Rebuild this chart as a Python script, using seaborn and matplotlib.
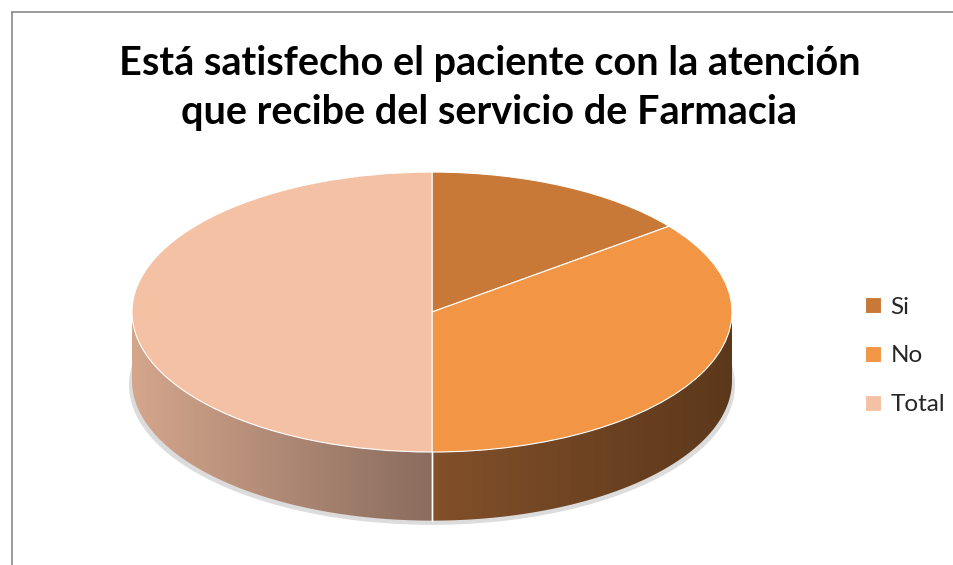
import numpy as np
import matplotlib
matplotlib.use("Agg")
import matplotlib.pyplot as plt
import matplotlib.colors as mcolors
from matplotlib.patches import Polygon
import seaborn as sns

# Data
categories = ["Si", "No", "Total"]
values = [29, 71, 100]
title = "Está satisfecho el paciente con la atención\nque recibe del servicio de Farmacia"

# Styles
top_colors = ["#C87937", "#F29545", "#F5C1A5"]
side_left = ["#A0602B", "#82502A", "#D4A68C"]
side_right = ["#6E4220", "#5C381B", "#8A6C5E"]
depth = 0.49  # wall height in y units

sns.set_theme(style="white")
plt.rcParams["font.family"] = ["Lato", "DejaVu Sans"]

fig = plt.figure(figsize=(9.54, 5.65), dpi=100)
ax = fig.add_axes([0, 0, 1, 1])

wedges, _ = ax.pie(values, colors=top_colors, startangle=90, counterclock=False,
                   wedgeprops=dict(edgecolor="white", linewidth=0.8, zorder=3))

# faint shadow under the pie
t = np.linspace(0, 2 * np.pi, 200)
ax.fill(1.01 * np.cos(t), 1.0 * np.sin(t) - depth - 0.03, color="#dcdcdc", zorder=1, lw=0)

# side walls with horizontal gradient
for i, w in enumerate(wedges):
    ang = np.radians(np.linspace(w.theta1, w.theta2, 600))
    ang = ang[np.sin(ang) <= 0]
    if len(ang) < 2:
        continue
    xs, ys = np.cos(ang), np.sin(ang)
    pts = np.concatenate([np.column_stack([xs, ys]),
                          np.column_stack([xs[::-1], ys[::-1] - depth])])
    poly = Polygon(pts, closed=True, facecolor="none", edgecolor="none", zorder=2)
    ax.add_patch(poly)
    c0 = np.array(mcolors.to_rgb(side_left[i]))
    c1 = np.array(mcolors.to_rgb(side_right[i]))
    f = np.linspace(0, 1, 256)[None, :, None]
    grad = c0 + (c1 - c0) * f
    im = ax.imshow(grad, extent=[xs.min(), xs.max(), ys.min() - depth, ys.max()],
                   aspect="auto", origin="lower", zorder=2, interpolation="bilinear")
    im.set_clip_path(poly)
    for edge in (w.theta1, w.theta2):
        e = np.radians(edge)
        if np.sin(e) < -1e-6:
            ax.plot([np.cos(e)] * 2, [np.sin(e), np.sin(e) - depth], color="white", lw=1, zorder=2.5)

ax.set_aspect("auto")
ax.set_xlim(-1.44, 1.74)
ax.set_ylim(-1.807, 2.229)
ax.axis("off")

fig.text(0.513, 0.845, title, ha="center", va="center", fontsize=28.5,
         fontweight="bold", linespacing=1.4, color="black")

fig.legend(wedges, categories, loc="center left", bbox_to_anchor=(0.884, 1 - 356 / 565),
           frameon=False, fontsize=17.5, handlelength=0.65, handleheight=0.65,
           labelspacing=1.15, handletextpad=0.4)

# chart border
fig.add_artist(plt.Line2D([12 / 954, 12 / 954], [0, 1 - 12 / 565], color="#8a8a8a", lw=1.2))
fig.add_artist(plt.Line2D([12 / 954, 1], [1 - 12 / 565, 1 - 12 / 565], color="#8a8a8a", lw=1.2))

fig.savefig("out.png", dpi=100)
